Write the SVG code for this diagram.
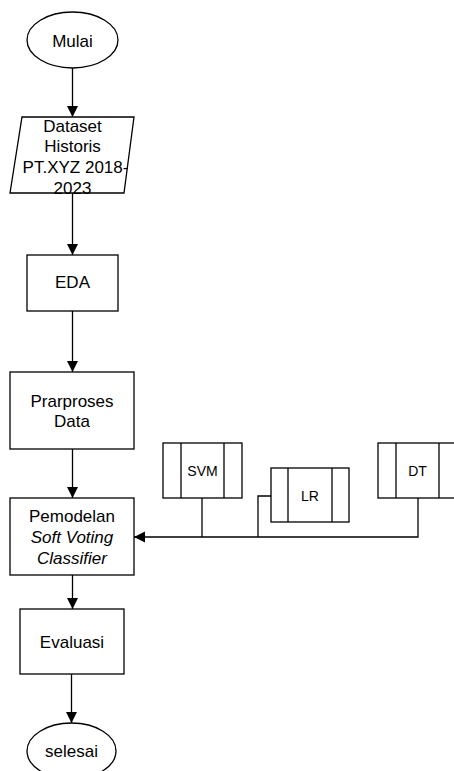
<svg xmlns="http://www.w3.org/2000/svg" width="454" height="771" viewBox="0 0 454 771">
<defs>
<style>
.s{fill:#fff;stroke:#000;stroke-width:1.3}
.t{font-family:"Liberation Sans",Arial,sans-serif;font-size:17px;fill:#000;text-anchor:middle}
.m{font-family:"Liberation Sans",Arial,sans-serif;font-size:14px;fill:#000;text-anchor:middle}
.i{font-style:italic}
.c{fill:none;stroke:#000;stroke-width:1.3}
</style>
<marker id="ah" markerUnits="userSpaceOnUse" markerWidth="12" markerHeight="12" viewBox="0 0 12 12" refX="11" refY="6" orient="auto">
<path d="M0,0.5 L11,6 L0,11.5 Z" fill="#000"/>
</marker>
</defs>
<rect width="454" height="771" fill="#fff"/>
<g id="connectors">
<line class="c" x1="72.5" y1="68" x2="72.5" y2="117" marker-end="url(#ah)"/>
<line class="c" x1="72.5" y1="193" x2="72.5" y2="255" marker-end="url(#ah)"/>
<line class="c" x1="72.5" y1="311" x2="72.5" y2="372" marker-end="url(#ah)"/>
<line class="c" x1="72.5" y1="449" x2="72.5" y2="498" marker-end="url(#ah)"/>
<line class="c" x1="72.5" y1="575" x2="72.5" y2="609" marker-end="url(#ah)"/>
<line class="c" x1="71.5" y1="674" x2="71.5" y2="723" marker-end="url(#ah)"/>
<polyline class="c" points="418,498 418,537 134,537" marker-end="url(#ah)"/>
<line class="c" x1="202" y1="498" x2="202" y2="537"/>
<polyline class="c" points="258,537 258,496 271,496"/>
</g>
<g id="mulai">
<ellipse class="s" cx="72.5" cy="40" rx="45.5" ry="28"/>
<text class="t" x="72.5" y="47">Mulai</text>
</g>
<g id="dataset">
<polygon class="s" points="22,117 134,117 124,193 10,193"/>
<text class="t" x="72.5" y="132">Dataset</text>
<text class="t" x="72.5" y="152">Historis</text>
<text class="t" x="75.5" y="173">PT.XYZ 2018-</text>
<text class="t" x="72.5" y="194">2023</text>
</g>
<g id="eda">
<rect class="s" x="27" y="255" width="91" height="56"/>
<text class="t" x="72.5" y="288">EDA</text>
</g>
<g id="prarproses">
<rect class="s" x="10" y="372" width="124" height="77"/>
<text class="t" x="72" y="407">Prarproses</text>
<text class="t" x="72" y="427">Data</text>
</g>
<g id="pemodelan">
<rect class="s" x="10" y="498" width="124" height="77"/>
<text class="t" x="72" y="522">Pemodelan</text>
<text class="t i" x="72" y="543">Soft Voting</text>
<text class="t i" x="72" y="564">Classifier</text>
</g>
<g id="evaluasi">
<rect class="s" x="20" y="609" width="104" height="65"/>
<text class="t" x="72" y="648">Evaluasi</text>
</g>
<g id="selesai">
<ellipse class="s" cx="71.5" cy="751" rx="44.5" ry="28"/>
<text class="t" x="71.5" y="757">selesai</text>
</g>
<g id="svm">
<rect class="s" x="163" y="443" width="79" height="55"/>
<line class="c" x1="181" y1="443" x2="181" y2="498"/>
<line class="c" x1="224" y1="443" x2="224" y2="498"/>
<text class="m" x="202.5" y="476">SVM</text>
</g>
<g id="lr">
<rect class="s" x="271" y="468" width="78" height="54"/>
<line class="c" x1="288" y1="468" x2="288" y2="522"/>
<line class="c" x1="332" y1="468" x2="332" y2="522"/>
<text class="m" x="310" y="501">LR</text>
</g>
<g id="dt">
<rect class="s" x="378" y="443" width="79" height="55"/>
<line class="c" x1="396" y1="443" x2="396" y2="498"/>
<line class="c" x1="439" y1="443" x2="439" y2="498"/>
<text class="m" x="417.5" y="476">DT</text>
</g>
</svg>
